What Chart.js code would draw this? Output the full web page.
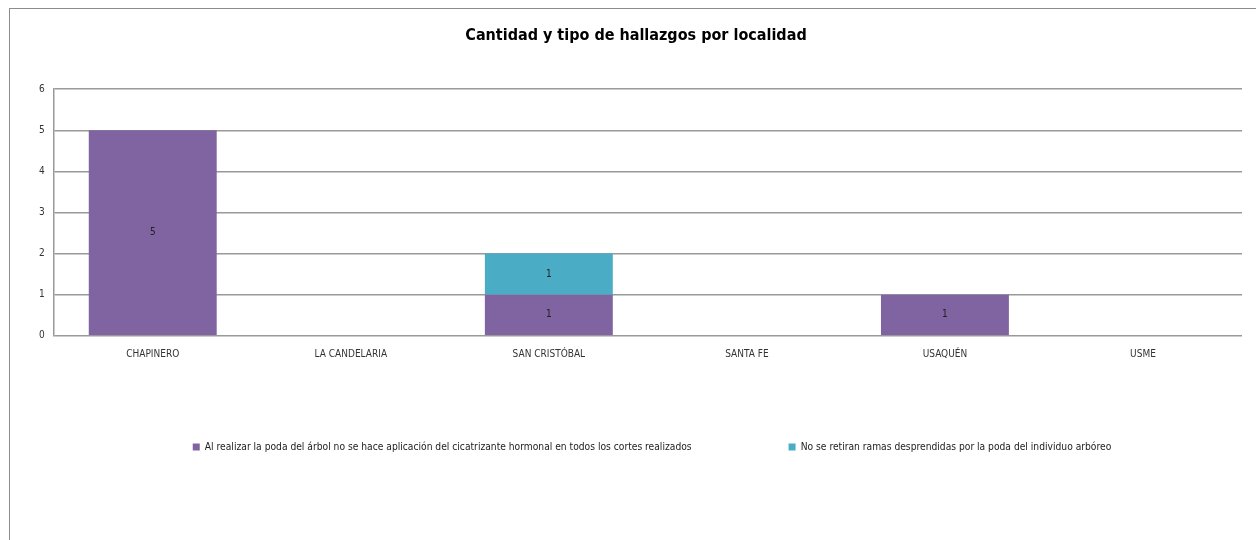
<!DOCTYPE html>
<html>
<head>
<meta charset="utf-8">
<script src="https://cdn.jsdelivr.net/npm/chart.js@4"></script>
<style>
  html, body { margin: 0; padding: 0; background: #fff; overflow: hidden; }
  #frame { position: absolute; left: 9px; top: 8px; width: 1300px; height: 600px; border: 1px solid #8c8c8c; }
  #wrap { position: absolute; left: 10px; top: 9px; width: 1250px; height: 531px; }
</style>
</head>
<body>
<div id="frame"></div>
<div id="wrap"><canvas id="chart"></canvas></div>
<script>
// localidades y hallazgos
const LOCALIDADES = ['CHAPINERO', 'LA CANDELARIA', 'SAN CRISTÓBAL', 'SANTA FE', 'USAQUÉN', 'USME'];
const SIN_CICATRIZANTE = [5, 0, 1, 0, 1, 0];
const RAMAS_NO_RETIRADAS = [0, 0, 1, 0, 0, 0];
const Y_TICKS = [0, 1, 2, 3, 4, 5, 6];

const TITULO = 'Cantidad y tipo de hallazgos por localidad';
const SERIE_1 = 'Al realizar la poda del árbol no se hace aplicación del cicatrizante hormonal en todos los cortes realizados';
const SERIE_2 = 'No se retiran ramas desprendidas por la poda del individuo arbóreo';

const FONT = "'Liberation Sans Narrow', 'DejaVu Sans Condensed', sans-serif";
const LEGEND_PAD = 97;
const LEGEND_Y = 438; // centro del texto de la leyenda, en el canvas
const LEGEND_DX = 16; // la leyenda no esta centrada en el original

/*---- etiquetas dentro de las barras ----*/
let valueLabels = {
  id: 'valueLabels',
  afterDatasetsDraw: (chart) => {
    let ctx = chart.ctx;
    ctx.save();
    ctx.font = '10px ' + FONT;
    ctx.fillStyle = '#222';
    ctx.textAlign = 'center';
    ctx.textBaseline = 'middle';
    chart.data.datasets.forEach((ds, i) => {
      let meta = chart.getDatasetMeta(i);
      meta.data.forEach((bar, j) => {
        if (!ds.data[j]) return;
        ctx.fillText(ds.data[j], bar.x, (bar.y + bar.base) / 2);
      });
    });
    ctx.restore();
  }
};

// sube la leyenda: el padding grande solo sirve para separar los dos items
let legendShift = {
  id: 'legendShift',
  afterLayout: (chart) => {
    let lg = chart.legend;
    let h = lg.height;
    lg.top = LEGEND_Y - LEGEND_PAD - 5;
    lg.bottom = lg.top + h;
    lg.left += LEGEND_DX;
    lg.right += LEGEND_DX;
  }
};

let getBarConfig = (label, color, data) => {
  return {
    label: label,
    data: data,
    backgroundColor: color,
    borderWidth: 0,
    categoryPercentage: 1,
    barPercentage: 0.646
  };
};

new Chart(document.getElementById('chart'), {
  type: 'bar',
  data: {
    labels: LOCALIDADES,
    datasets: [
      getBarConfig(SERIE_1, '#8064a2', SIN_CICATRIZANTE),
      getBarConfig(SERIE_2, '#4bacc6', RAMAS_NO_RETIRADAS)
    ]
  },
  options: {
    responsive: true,
    maintainAspectRatio: false,
    animation: false,
    layout: { padding: { left: 20, right: 18, top: 0, bottom: 57 } },
    plugins: {
      title: {
        display: true,
        text: TITULO,
        color: '#000',
        font: { family: FONT, size: 16, weight: 'bold' },
        padding: { top: 17, bottom: 44 }
      },
      legend: {
        position: 'bottom',
        labels: {
          boxWidth: 7,
          boxHeight: 7,
          padding: LEGEND_PAD,
          color: '#222',
          font: { family: FONT, size: 10.2 }
        }
      },
      tooltip: { enabled: false }
    },
    scales: {
      x: {
        stacked: true,
        grid: { display: false },
        border: { display: false },
        ticks: { color: '#333', font: { family: FONT, size: 10 }, padding: 5, maxRotation: 0, autoSkip: false }
      },
      y: {
        stacked: true,
        min: 0,
        max: 6,
        afterBuildTicks: (scale) => { scale.ticks = Y_TICKS.map((v) => ({value: v})); },
        grid: { color: '#999', drawTicks: false, lineWidth: 1.5 },
        border: { display: true, color: '#999', width: 1.5 },
        ticks: { color: '#333', font: { family: FONT, size: 10 }, padding: 9 }
      }
    }
  },
  plugins: [valueLabels, legendShift]
});
</script>
</body>
</html>
